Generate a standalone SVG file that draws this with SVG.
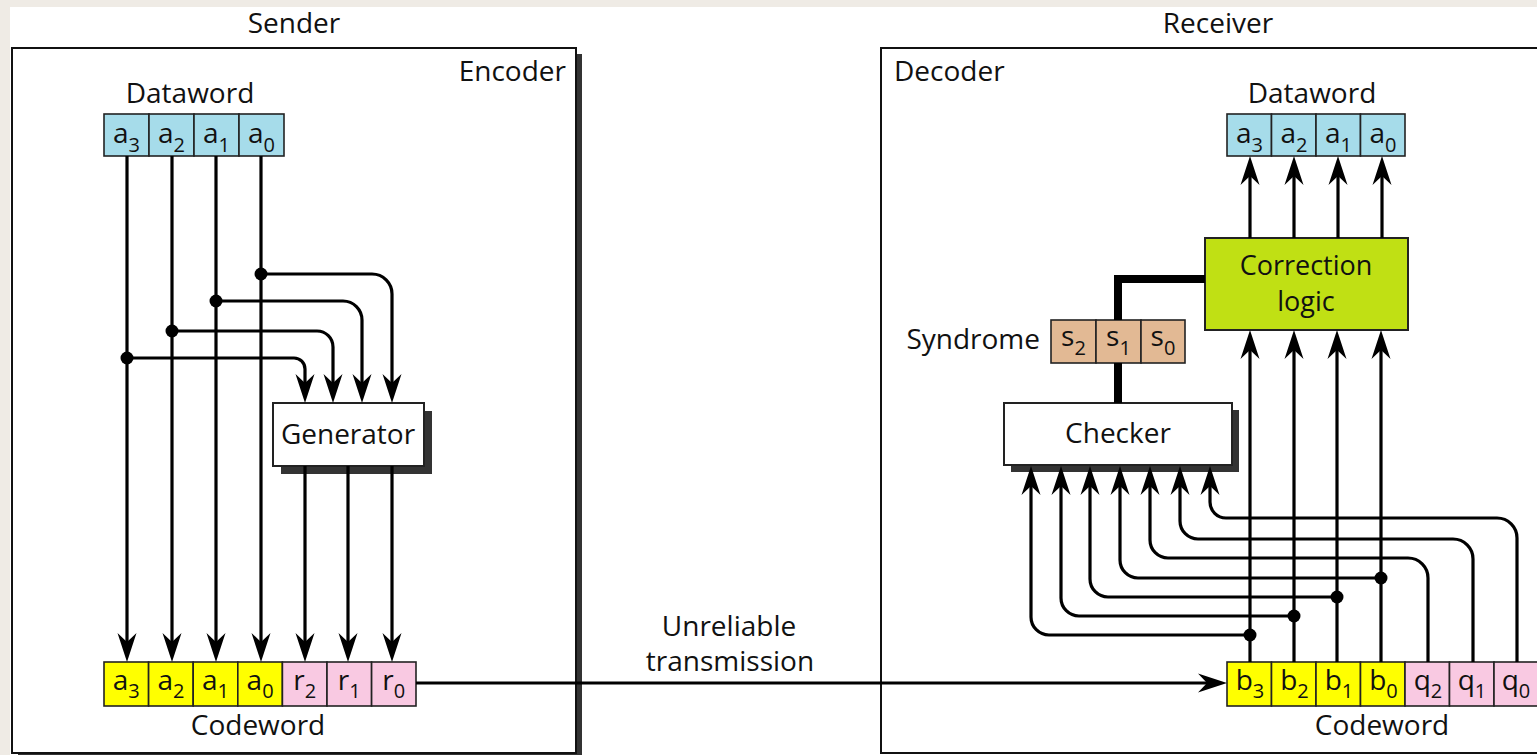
<svg xmlns="http://www.w3.org/2000/svg" width="1537" height="755" viewBox="0 0 1537 755">
<defs>
<style>
text{font-family:"Open Sans","Liberation Sans",sans-serif;font-size:28px;fill:#111}
.sub{font-size:20px}
.mid{text-anchor:middle}
.cell{stroke:#222;stroke-width:1.6}
.blue{fill:#a6dcea}
.yel{fill:#ffff00}
.pink{fill:#f9c9e2}
.tan{fill:#e2b994}
.wire{fill:none;stroke:#000;stroke-width:3.2}
.thick{fill:none;stroke:#000;stroke-width:8}
.arr{marker-end:url(#ah)}
.shadow{fill:#333}
.corr{font-size:27px}
</style>
<marker id="ah" markerUnits="userSpaceOnUse" viewBox="-30 -10 40 20" markerWidth="40" markerHeight="20" refX="-10" refY="0" orient="auto" overflow="visible">
<path d="M0,0 L-29,-9.5 L-20,0 L-29,9.5 Z" fill="#000"/>
</marker>
</defs>
<rect x="0" y="0" width="1537" height="755" fill="#efebe5"/>
<rect x="10" y="7" width="1527" height="748" fill="#fff"/>

<text class="mid" x="294" y="33">Sender</text>
<text class="mid" x="1218" y="33">Receiver</text>

<g id="encoder">
<rect class="shadow" x="18" y="54" width="564" height="710"/>
<rect x="12" y="48" width="564" height="705" fill="#fff" stroke="#111" stroke-width="2"/>
<text x="566" y="81" text-anchor="end">Encoder</text>
</g>
<g id="decoder">
<rect x="881" y="48" width="700" height="705" fill="#fff" stroke="#111" stroke-width="2"/>
<text x="894" y="81">Decoder</text>
</g>

<g id="sender-dataword">
<text class="mid" x="190" y="103">Dataword</text>
<rect class="cell blue" x="104" y="114" width="45" height="42"/>
<rect class="cell blue" x="149" y="114" width="45" height="42"/>
<rect class="cell blue" x="194" y="114" width="45" height="42"/>
<rect class="cell blue" x="239" y="114" width="45" height="42"/>
<text class="mid" x="126.5" y="143">a<tspan class="sub" dy="9">3</tspan></text>
<text class="mid" x="171.5" y="143">a<tspan class="sub" dy="9">2</tspan></text>
<text class="mid" x="216.5" y="143">a<tspan class="sub" dy="9">1</tspan></text>
<text class="mid" x="261.5" y="143">a<tspan class="sub" dy="9">0</tspan></text>
</g>

<g id="generator">
<rect class="shadow" x="281" y="411" width="151" height="63"/>
<rect x="273" y="403" width="151" height="63" fill="#fff" stroke="#222" stroke-width="2"/>
<text class="mid" x="348" y="444">Generator</text>
</g>

<g id="sender-codeword">
<rect class="cell yel" x="104" y="662" width="44.6" height="44"/>
<rect class="cell yel" x="148.6" y="662" width="44.6" height="44"/>
<rect class="cell yel" x="193.2" y="662" width="44.6" height="44"/>
<rect class="cell yel" x="237.8" y="662" width="44.6" height="44"/>
<rect class="cell pink" x="282.4" y="662" width="44.6" height="44"/>
<rect class="cell pink" x="327" y="662" width="44.6" height="44"/>
<rect class="cell pink" x="371.6" y="662" width="44.4" height="44"/>
<text class="mid" x="126.3" y="690">a<tspan class="sub" dy="8">3</tspan></text>
<text class="mid" x="170.9" y="690">a<tspan class="sub" dy="8">2</tspan></text>
<text class="mid" x="215.5" y="690">a<tspan class="sub" dy="8">1</tspan></text>
<text class="mid" x="260.1" y="690">a<tspan class="sub" dy="8">0</tspan></text>
<text class="mid" x="304.7" y="690">r<tspan class="sub" dy="8">2</tspan></text>
<text class="mid" x="349.3" y="690">r<tspan class="sub" dy="8">1</tspan></text>
<text class="mid" x="393.8" y="690">r<tspan class="sub" dy="8">0</tspan></text>
<text class="mid" x="258" y="735">Codeword</text>
</g>

<g id="transmission-label">
<text class="mid" x="729" y="636">Unreliable</text>
<text class="mid" x="730" y="671">transmission</text>
</g>

<g id="receiver-dataword">
<text class="mid" x="1312" y="103">Dataword</text>
<rect class="cell blue" x="1227" y="114" width="44.5" height="42"/>
<rect class="cell blue" x="1271.5" y="114" width="44.5" height="42"/>
<rect class="cell blue" x="1316" y="114" width="44.5" height="42"/>
<rect class="cell blue" x="1360.5" y="114" width="44.5" height="42"/>
<text class="mid" x="1249.5" y="143">a<tspan class="sub" dy="9">3</tspan></text>
<text class="mid" x="1294" y="143">a<tspan class="sub" dy="9">2</tspan></text>
<text class="mid" x="1338.5" y="143">a<tspan class="sub" dy="9">1</tspan></text>
<text class="mid" x="1383" y="143">a<tspan class="sub" dy="9">0</tspan></text>
</g>

<g id="correction">
<rect x="1205" y="238" width="203" height="92" fill="#c0e014" stroke="#222" stroke-width="2"/>
<text class="mid corr" x="1306" y="275">Correction</text>
<text class="mid corr" x="1306" y="311">logic</text>
</g>

<g id="syndrome">
<text x="1040" y="349" text-anchor="end">Syndrome</text>
<rect class="cell tan" x="1051" y="320" width="45" height="43"/>
<rect class="cell tan" x="1096" y="320" width="45" height="43"/>
<rect class="cell tan" x="1141" y="320" width="44" height="43"/>
<text class="mid" x="1073.5" y="346">s<tspan class="sub" dy="9">2</tspan></text>
<text class="mid" x="1118.5" y="346">s<tspan class="sub" dy="9">1</tspan></text>
<text class="mid" x="1163" y="346">s<tspan class="sub" dy="9">0</tspan></text>
</g>

<g id="checker">
<rect class="shadow" x="1011" y="410" width="228" height="62"/>
<rect x="1004" y="403" width="228" height="62" fill="#fff" stroke="#222" stroke-width="2"/>
<text class="mid" x="1118" y="443">Checker</text>
</g>

<g id="receiver-codeword">
<rect class="cell yel" x="1227" y="662" width="44.5" height="44"/>
<rect class="cell yel" x="1271.5" y="662" width="44.5" height="44"/>
<rect class="cell yel" x="1316" y="662" width="44.5" height="44"/>
<rect class="cell yel" x="1360.5" y="662" width="44.5" height="44"/>
<rect class="cell pink" x="1405" y="662" width="44.5" height="44"/>
<rect class="cell pink" x="1449.5" y="662" width="44.5" height="44"/>
<rect class="cell pink" x="1494" y="662" width="44.5" height="44"/>
<text class="mid" x="1250" y="690">b<tspan class="sub" dy="8">3</tspan></text>
<text class="mid" x="1294.5" y="690">b<tspan class="sub" dy="8">2</tspan></text>
<text class="mid" x="1339" y="690">b<tspan class="sub" dy="8">1</tspan></text>
<text class="mid" x="1383.5" y="690">b<tspan class="sub" dy="8">0</tspan></text>
<text class="mid" x="1428" y="690">q<tspan class="sub" dy="8">2</tspan></text>
<text class="mid" x="1472" y="690">q<tspan class="sub" dy="8">1</tspan></text>
<text class="mid" x="1516" y="690">q<tspan class="sub" dy="8">0</tspan></text>
<text class="mid" x="1382" y="735">Codeword</text>
</g>

<g id="connectors">
<path class="wire arr" d="M127,156 V652"/>
<path class="wire arr" d="M172,156 V652"/>
<path class="wire arr" d="M216,156 V652"/>
<path class="wire arr" d="M261,156 V652"/>
<path class="wire arr" d="M261,274 H372 A20,20 0 0 1 392,294 V393"/>
<path class="wire arr" d="M216,301 H343 A19,19 0 0 1 362,320 V393"/>
<path class="wire arr" d="M172,331 H317 A16,16 0 0 1 333,347 V393"/>
<path class="wire arr" d="M127,358 H294 A11,11 0 0 1 305,369 V393"/>
<circle cx="261" cy="274" r="6.5"/>
<circle cx="216" cy="301" r="6.5"/>
<circle cx="172" cy="331" r="6.5"/>
<circle cx="127" cy="358" r="6.5"/>
<path class="wire arr" d="M305,466 V652"/>
<path class="wire arr" d="M348,466 V652"/>
<path class="wire arr" d="M392,466 V652"/>
<path class="wire arr" d="M416,683 H1217"/>
<path class="wire arr" d="M1250,238 V166"/>
<path class="wire arr" d="M1294,238 V166"/>
<path class="wire arr" d="M1338,238 V166"/>
<path class="wire arr" d="M1382,238 V166"/>
<path class="wire arr" d="M1250,662 V340"/>
<path class="wire arr" d="M1294,662 V340"/>
<path class="wire arr" d="M1337,662 V340"/>
<path class="wire arr" d="M1381,662 V340"/>
<path class="thick" d="M1118,403 V363"/>
<path class="thick" d="M1118,320 V279 H1205"/>
<path class="wire arr" d="M1250,635 H1049 A18,18 0 0 1 1031,617 V476"/>
<path class="wire arr" d="M1294,616 H1079 A18,18 0 0 1 1061,598 V476"/>
<path class="wire arr" d="M1337,597 H1108 A18,18 0 0 1 1090,579 V476"/>
<path class="wire arr" d="M1381,578 H1138 A18,18 0 0 1 1120,560 V476"/>
<path class="wire arr" d="M1428,662 V578 A20,20 0 0 0 1408,558 H1168 A18,18 0 0 1 1150,540 V476"/>
<path class="wire arr" d="M1473,662 V559 A20,20 0 0 0 1453,539 H1198 A18,18 0 0 1 1180,521 V476"/>
<path class="wire arr" d="M1517,662 V538 A20,20 0 0 0 1497,518 H1226 A16,16 0 0 1 1210,502 V476"/>
<circle cx="1250" cy="635" r="6.5"/>
<circle cx="1294" cy="616" r="6.5"/>
<circle cx="1337" cy="597" r="6.5"/>
<circle cx="1381" cy="578" r="6.5"/>
</g>
</svg>
